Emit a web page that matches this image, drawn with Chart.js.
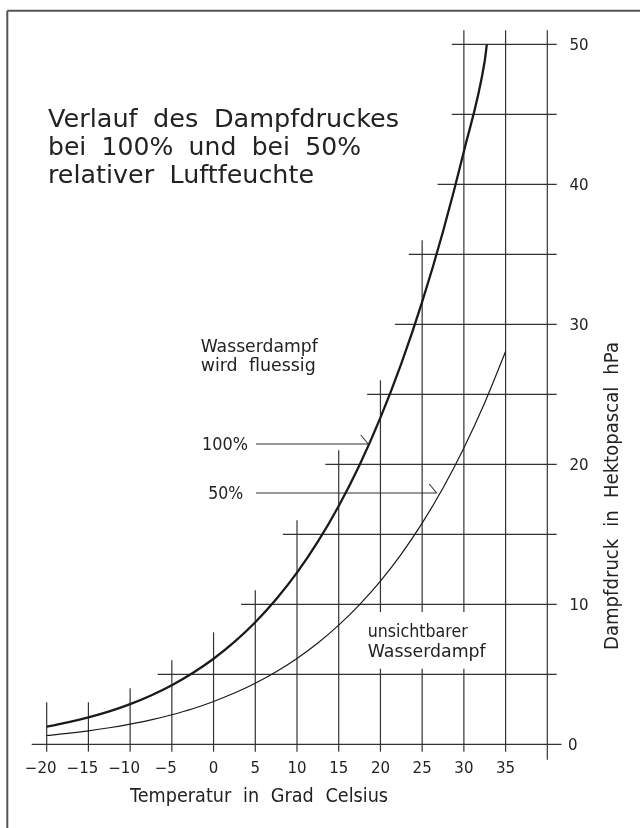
<!DOCTYPE html>
<html lang="de">
<head>
<meta charset="utf-8">
<title>Verlauf des Dampfdruckes</title>
<script src="https://cdn.jsdelivr.net/npm/chart.js@4.4.1/dist/chart.umd.min.js"></script>
<style>
  html, body { margin: 0; padding: 0; background: #fff; }
  canvas { display: block; }
</style>
</head>
<body>
<canvas id="dampfChart" width="640" height="828"></canvas>
<script>
const temps100 = [-20, -17.5, -15, -12.5, -10, -7.5, -5, -2.5, 0, 2.5, 5, 7.5, 10, 12.5, 15, 17.5, 20, 22.5, 25, 27.5, 30, 32.5, 32.75];
const druck100 = [1.26, 1.56, 1.92, 2.35, 2.87, 3.49, 4.22, 5.09, 6.11, 7.31, 8.72, 10.36, 12.26, 14.47, 17.02, 19.95, 23.33, 27.19, 31.6, 36.63, 42.34, 48.81, 50.0];

// Dampfdruck bei 50 % relativer Luftfeuchte
const temps50 = [-20, -17.5, -15, -12.5, -10, -7.5, -5, -2.5, 0, 2.5, 5, 7.5, 10, 12.5, 15, 17.5, 20, 22.5, 25, 27.5, 30, 32.5, 35];
const druck50 = [0.63, 0.78, 0.96, 1.18, 1.44, 1.74, 2.11, 2.54, 3.06, 3.66, 4.36, 5.18, 6.13, 7.23, 8.51, 9.98, 11.66, 13.59, 15.8, 18.31, 21.17, 24.4, 28.06];

// Achsenbeschriftung
const xTicks = [-20, -15, -10, -5, 0, 5, 10, 15, 20, 25, 30, 35];
const yTicks = [0, 10, 20, 30, 40, 50];

// Treppenförmiges Raster (Werte in Grad / hPa)
const vLineT = [-20, -15, -10, -5, 0, 5, 10, 15, 20, 25, 30, 35, 40];
const vLineTop = [3, 3, 4, 6, 8, 11, 16, 21, 26, 36, 51, 51, 51];
const hLineP = [0, 5, 10, 15, 20, 25, 30, 35, 40, 45, 50];
const hLineStart = [-21.8, -6.7, 3.3, 8.3, 13.4, 18.4, 21.75, 23.4, 26.85, 28.55, 28.55];
const gapT = [20, 25, 30];      // senkrechte Linien hinter dem Text unterbrochen
const gapP = [5.4, 9.45];

// Pfeile zu den Kurven
const arrowNames = ['100%', '50%'];
const arrowP = [21.45, 17.95];
const arrowEndT = [18.54, 26.74];

const FONT = '"DejaVu Sans", "Liberation Sans", sans-serif';
const INK = '#222';

function fitText(ctx, text, x, y, width, size, align, ws) {
  ctx.save();
  ctx.font = `${size}px ${FONT}`;
  ctx.wordSpacing = (ws || 0) + 'px';
  const w = ctx.measureText(text).width;
  let left = x;
  if (align === 'right') left = x - width;
  if (align === 'center') left = x - width / 2;
  ctx.translate(left, y);
  ctx.scale(width / w, 1);
  ctx.textAlign = 'left';
  ctx.textBaseline = 'alphabetic';
  ctx.fillStyle = INK;
  ctx.fillText(text, 0, 0);
  ctx.restore();
}

function seg(ctx, x1, y1, x2, y2) {
  ctx.beginPath();
  ctx.moveTo(x1, y1);
  ctx.lineTo(x2, y2);
  ctx.stroke();
}

const zeichnung = {
  id: 'zeichnung',
  beforeDatasetsDraw(chart) {
    const { ctx } = chart;
    const x = chart.scales.x, y = chart.scales.y;
    ctx.save();

    // Rahmen (nur oben und links sichtbar)
    ctx.strokeStyle = '#555';
    ctx.lineWidth = 2;
    seg(ctx, 7.3, 828, 7.3, 10.7);
    seg(ctx, 7.3, 10.7, 640, 10.7);

    ctx.strokeStyle = '#333';
    ctx.lineWidth = 1.2;
    vLineT.forEach((t, i) => {
      const px = x.getPixelForValue(t);
      const bottom = t === 40 ? -1.1 : -0.53;
      if (gapT.includes(t)) {
        seg(ctx, px, y.getPixelForValue(bottom), px, y.getPixelForValue(gapP[0]));
        seg(ctx, px, y.getPixelForValue(gapP[1]), px, y.getPixelForValue(vLineTop[i]));
      } else {
        seg(ctx, px, y.getPixelForValue(bottom), px, y.getPixelForValue(vLineTop[i]));
      }
    });
    hLineP.forEach((p, i) => {
      const py = y.getPixelForValue(p);
      const end = p === 0 ? 41.7 : 41.13;
      seg(ctx, x.getPixelForValue(hLineStart[i]), py, x.getPixelForValue(end), py);
    });

    // Pfeile
    ctx.lineWidth = 1.1;
    arrowNames.forEach((n, i) => {
      const py = y.getPixelForValue(arrowP[i]);
      const tip = x.getPixelForValue(arrowEndT[i]);
      seg(ctx, x.getPixelForValue(5.08), py, tip, py);
      seg(ctx, tip - 7.5, py - 9, tip, py);
    });
    ctx.restore();
  },
  afterDraw(chart) {
    const { ctx } = chart;
    const x = chart.scales.x, y = chart.scales.y;

    // Titel
    fitText(ctx, 'Verlauf des Dampfdruckes', 48, 127, 351, 24, 'left', 7);
    fitText(ctx, 'bei 100% und bei 50%', 48, 155, 313, 24, 'left', 7);
    fitText(ctx, 'relativer Luftfeuchte', 48, 183, 266, 24, 'left', 7);

    // Beschriftungen im Diagramm
    fitText(ctx, 'Wasserdampf', 200.7, 351.5, 117, 18, 'left', 0);
    fitText(ctx, 'wird fluessig', 200.7, 371, 115, 18, 'left', 6);
    fitText(ctx, arrowNames[0], 248, 450, 46, 18, 'right', 0);
    fitText(ctx, arrowNames[1], 243.3, 499, 35, 18, 'right', 0);
    fitText(ctx, 'unsichtbarer', 367.7, 637, 100, 18, 'left', 0);
    fitText(ctx, 'Wasserdampf', 367.7, 656.7, 118, 18, 'left', 0);

    // Achsentitel
    fitText(ctx, 'Temperatur in Grad Celsius', 130, 801.7, 258, 20, 'left', 7);
    ctx.save();
    ctx.translate(618.3, 496);
    ctx.rotate(-Math.PI / 2);
    fitText(ctx, 'Dampfdruck in Hektopascal hPa', 0, 0, 308, 20, 'center', 7);
    ctx.restore();

    // Teilstriche beschriften
    ctx.save();
    ctx.font = `15px ${FONT}`;
    ctx.fillStyle = INK;
    ctx.textBaseline = 'alphabetic';
    xTicks.forEach(t => {
      const label = t < 0 ? '\u2212' + Math.abs(t) : String(t);
      const shift = t < 0 ? -6 : 0;
      ctx.textAlign = 'center';
      ctx.fillText(label, x.getPixelForValue(t) + shift, 773.3);
    });
    yTicks.forEach(p => {
      ctx.textAlign = 'left';
      ctx.fillText(String(p), p === 0 ? 568 : 569.5, y.getPixelForValue(p) + 5.5);
    });
    ctx.restore();
  }
};

new Chart(document.getElementById('dampfChart'), {
  type: 'line',
  data: {
    datasets: [
      {
        label: '100%',
        data: temps100.map((t, i) => ({ x: t, y: druck100[i] })),
        borderColor: '#1a1a1a',
        borderWidth: 2.3,
        pointRadius: 0,
        cubicInterpolationMode: 'monotone',
        fill: false
      },
      {
        label: '50%',
        data: temps50.map((t, i) => ({ x: t, y: druck50[i] })),
        borderColor: '#1a1a1a',
        borderWidth: 1.2,
        pointRadius: 0,
        cubicInterpolationMode: 'monotone',
        fill: false
      }
    ]
  },
  options: {
    responsive: false,
    animation: false,
    events: [],
    layout: { padding: { left: 30, right: 76, top: 16.3, bottom: 69.7 } },
    scales: {
      x: { type: 'linear', min: -22, max: 42, display: false },
      y: { type: 'linear', min: -1, max: 52, display: false }
    },
    plugins: {
      legend: { display: false },
      tooltip: { enabled: false }
    }
  },
  plugins: [zeichnung]
});
</script>
</body>
</html>
